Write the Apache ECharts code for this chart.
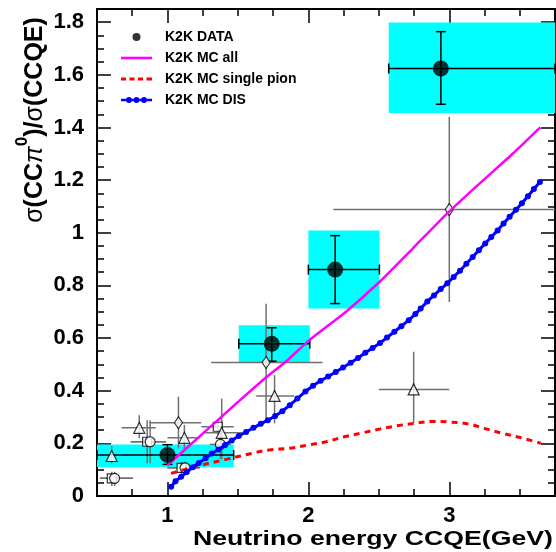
<!DOCTYPE html>
<html><head><meta charset="utf-8">
<script src="https://cdn.jsdelivr.net/npm/echarts@6/dist/echarts.min.js"></script>
<style>html,body{margin:0;padding:0;background:#fff}#c{width:556px;height:552px}</style>
</head><body><div id="c"></div>
<script>
// ---- tick values ----
const xMajorTicks = [1, 2, 3];
const yLabelStep = 0.2;

// ---- K2K data ----
const k2kE     = [1.0, 1.74, 2.19, 2.94];
const k2kR     = [0.156, 0.578, 0.86, 1.624];
const k2kELo   = [0.5, 1.506, 2.0, 2.57];
const k2kEHi   = [1.47, 2.01, 2.504, 3.75];
const k2kStatLo = [0.12, 0.512, 0.731, 1.488];
const k2kStatHi = [0.195, 0.639, 0.989, 1.764];
const k2kSysLo  = [0.109, 0.506, 0.712, 1.455];
const k2kSysHi  = [0.196, 0.649, 1.009, 1.799];

// ---- other experiments ----
const otherShape = ['triangle','rect','circle','triangle','rect','circle','diamond','triangle','rect','circle','rect','triangle','circle','diamond','triangle','triangle','diamond'];
const otherE   = [0.604, 0.605, 0.625, 0.80, 0.856, 0.877, 1.078, 1.12, 1.10, 1.125, 1.357, 1.385, 1.376, 1.70, 1.76, 2.747, 3.0];
const otherR   = [0.152, 0.067, 0.067, 0.259, 0.206, 0.206, 0.278, 0.221, 0.107, 0.107, 0.263, 0.24, 0.196, 0.507, 0.38, 0.405, 1.088];
const otherELo = [0.604, 0.52, 0.52, 0.675, 0.74, 0.74, 0.872, 1.0, 1.0, 1.0, 1.24, 1.26, 1.3, 1.31, 1.63, 2.5, 2.177];
const otherEHi = [0.604, 0.755, 0.755, 0.917, 0.99, 0.99, 1.239, 1.23, 1.23, 1.23, 1.47, 1.53, 1.45, 2.10, 1.90, 3.0, 3.75];
const otherRLo = [0.125, 0.038, 0.038, 0.219, 0.124, 0.124, 0.181, 0.168, 0.08, 0.08, 0.235, 0.14, 0.14, 0.295, 0.276, 0.277, 0.737];
const otherRHi = [0.19, 0.092, 0.092, 0.307, 0.288, 0.288, 0.377, 0.27, 0.13, 0.13, 0.29, 0.37, 0.25, 0.73, 0.459, 0.548, 1.44];

// ---- MC curves ----
const mcAllE = [1.0, 1.25, 1.5, 1.676, 1.85, 2.007, 2.267, 2.504, 2.74, 2.977, 3.2, 3.45, 3.645];
const mcAll  = [0.117, 0.237, 0.357, 0.44, 0.515, 0.592, 0.70, 0.813, 0.94, 1.069, 1.18, 1.30, 1.40];

const mcPionE = [1.026, 1.2, 1.416, 1.6, 1.723, 1.865, 2.002, 2.125, 2.255, 2.385, 2.504, 2.622, 2.752, 2.882, 3.0, 3.142, 3.248, 3.378, 3.496, 3.65];
const mcPion  = [0.086, 0.112, 0.139, 0.162, 0.175, 0.181, 0.194, 0.206, 0.225, 0.240, 0.254, 0.266, 0.276, 0.283, 0.281, 0.273, 0.257, 0.238, 0.223, 0.200];

const mcDisE = [1.026, 1.057, 1.097, 1.137, 1.180, 1.222, 1.270, 1.314, 1.362, 1.409, 1.456, 1.506, 1.558, 1.610, 1.662, 1.712, 1.764, 1.815, 1.868, 1.922, 1.979, 2.033, 2.087, 2.140, 2.194, 2.246, 2.300, 2.352, 2.404, 2.456, 2.508, 2.558, 2.610, 2.660, 2.712, 2.759, 2.797, 2.844, 2.891, 2.939, 2.986, 3.031, 3.076, 3.121, 3.166, 3.210, 3.255, 3.298, 3.343, 3.385, 3.428, 3.473, 3.515, 3.558, 3.600, 3.643];
const mcDis  = [0.035, 0.056, 0.073, 0.091, 0.109, 0.125, 0.143, 0.161, 0.177, 0.194, 0.211, 0.228, 0.243, 0.259, 0.274, 0.288, 0.304, 0.322, 0.345, 0.370, 0.397, 0.419, 0.438, 0.454, 0.471, 0.488, 0.506, 0.524, 0.544, 0.562, 0.581, 0.602, 0.624, 0.645, 0.668, 0.691, 0.712, 0.739, 0.762, 0.786, 0.808, 0.832, 0.856, 0.882, 0.908, 0.934, 0.959, 0.984, 1.009, 1.035, 1.061, 1.087, 1.112, 1.139, 1.166, 1.193];

const FONT = '"Liberation Sans", Arial, Helvetica, sans-serif';

const chart = echarts.init(document.getElementById('c'), null, {renderer: 'canvas'});

function errRender(cap, color) {
  return function (params, api) {
    const x = api.value(0), y = api.value(1), xl = api.value(2), xh = api.value(3), yl = api.value(4), yh = api.value(5);
    const a = api.coord([xl, y]), b = api.coord([xh, y]), c = api.coord([x, yl]), d = api.coord([x, yh]);
    const st = {stroke: color, lineWidth: 1.5};
    const ch = [];
    if (xh > xl) ch.push({type: 'line', shape: {x1: a[0], y1: a[1], x2: b[0], y2: b[1]}, style: st});
    if (yh > yl) ch.push({type: 'line', shape: {x1: c[0], y1: c[1], x2: d[0], y2: d[1]}, style: st});
    if (cap) {
      ch.push({type: 'line', shape: {x1: a[0], y1: a[1] - cap, x2: a[0], y2: a[1] + cap}, style: st});
      ch.push({type: 'line', shape: {x1: b[0], y1: b[1] - cap, x2: b[0], y2: b[1] + cap}, style: st});
      ch.push({type: 'line', shape: {x1: c[0] - cap, y1: c[1], x2: c[0] + cap, y2: c[1]}, style: st});
      ch.push({type: 'line', shape: {x1: d[0] - cap, y1: d[1], x2: d[0] + cap, y2: d[1]}, style: st});
    }
    return {type: 'group', children: ch};
  };
}

const axisLineStyle = {color: '#000', width: 2};
const tickStyle = {color: '#000', width: 1.5};
const xMin = 0.5, xMax = 3.75, yMin = 0, yMax = 1.85;

function yLabel(v) {
  const k = v / yLabelStep;
  if (Math.abs(k - Math.round(k)) < 1e-6 && v <= 1.8 + 1e-9) return String(+v.toFixed(1));
  return '';
}

// legend icons (line samples like the original legend)
const iconSolid  = 'path://M0,2.2h31v2.6h-31z';
const iconDashed = 'path://M0,2h5v3h-5zM8.5,2h5v3h-5zM17,2h5v3h-5zM25.5,2h5.5v3h-5.5z';
const iconDots   = 'path://M0,2.3h5v2.4h-5z'
  + 'M5,3.5a3,3 0 1,1 6,0a3,3 0 1,1 -6,0z'
  + 'M11,2.3h1.5v2.4h-1.5z'
  + 'M12.5,3.5a3,3 0 1,1 6,0a3,3 0 1,1 -6,0z'
  + 'M18.5,2.3h1.5v2.4h-1.5z'
  + 'M20,3.5a3,3 0 1,1 6,0a3,3 0 1,1 -6,0z'
  + 'M26,2.3h5v2.4h-5z';

const option = {
  animation: false,
  backgroundColor: '#fff',
  grid: {left: 97, right: 1, top: 9, bottom: 56, containLabel: false},
  xAxis: [
    {type: 'value', min: xMin, max: xMax, interval: 0.25, position: 'bottom',
     axisLine: {show: true, onZero: false, lineStyle: axisLineStyle},
     axisTick: {show: true, inside: true, length: 7, lineStyle: tickStyle},
     axisLabel: {show: false}, splitLine: {show: false}},
    {type: 'value', min: xMin, max: xMax, position: 'bottom',
     axisLine: {show: false, onZero: false},
     axisTick: {show: true, inside: true, length: 14, lineStyle: tickStyle, customValues: xMajorTicks},
     axisLabel: {show: true, customValues: xMajorTicks, fontSize: 22, fontWeight: 'bold', color: '#000', fontFamily: FONT, margin: 9},
     splitLine: {show: false}},
    {type: 'value', min: xMin, max: xMax, interval: 0.25, position: 'top',
     axisLine: {show: true, onZero: false, lineStyle: axisLineStyle},
     axisTick: {show: true, inside: true, length: 7, lineStyle: tickStyle},
     axisLabel: {show: false}, splitLine: {show: false}},
    {type: 'value', min: xMin, max: xMax, position: 'top',
     axisLine: {show: false, onZero: false},
     axisTick: {show: true, inside: true, length: 14, lineStyle: tickStyle, customValues: xMajorTicks},
     axisLabel: {show: false, customValues: xMajorTicks}, splitLine: {show: false}}
  ],
  yAxis: [
    {type: 'value', min: yMin, max: yMax, interval: 0.05, position: 'left',
     axisLine: {show: true, onZero: false, lineStyle: axisLineStyle},
     axisTick: {show: true, inside: true, length: 7, lineStyle: tickStyle},
     axisLabel: {show: true, formatter: yLabel, fontSize: 22, fontWeight: 'bold', color: '#000', fontFamily: FONT, margin: 13},
     splitLine: {show: false}},
    {type: 'value', min: yMin, max: yMax, interval: yLabelStep, position: 'left',
     axisLine: {show: false, onZero: false},
     axisTick: {show: true, inside: true, length: 14, lineStyle: tickStyle},
     axisLabel: {show: false}, splitLine: {show: false}},
    {type: 'value', min: yMin, max: yMax, interval: 0.05, position: 'right',
     axisLine: {show: true, onZero: false, lineStyle: axisLineStyle},
     axisTick: {show: true, inside: true, length: 7, lineStyle: tickStyle},
     axisLabel: {show: false}, splitLine: {show: false}},
    {type: 'value', min: yMin, max: yMax, interval: yLabelStep, position: 'right',
     axisLine: {show: false, onZero: false},
     axisTick: {show: true, inside: true, length: 14, lineStyle: tickStyle},
     axisLabel: {show: false}, splitLine: {show: false}}
  ],
  legend: {
    orient: 'vertical', left: 116, top: 25, itemWidth: 31, itemHeight: 8, itemGap: 7,
    textStyle: {fontSize: 14, fontWeight: 'bold', color: '#000', fontFamily: FONT, padding: [0, 0, 0, 8]},
    data: [
      {name: 'K2K DATA', icon: 'circle'},
      {name: 'K2K MC all', icon: iconSolid},
      {name: 'K2K MC single pion', icon: iconDashed},
      {name: 'K2K MC DIS', icon: iconDots}
    ]
  },
  graphic: [
    {type: 'text', x: 553, y: 539, scaleX: 1.27, z: 100,
     style: {text: 'Neutrino energy CCQE(GeV)', font: 'bold 21px ' + FONT, fill: '#000',
             align: 'right', verticalAlign: 'middle', textAlign: 'right', textVerticalAlign: 'middle'}},
    {type: 'text', x: 31, y: 120, rotation: Math.PI / 2, z: 100,
     style: {text: '{s|σ}{b|(CC}{p|π}{u|0}{b|)/}{s|σ}{b|(CCQE)}', fill: '#000',
             align: 'center', verticalAlign: 'middle', textAlign: 'center', textVerticalAlign: 'middle',
             rich: {
               b: {fontSize: 25, fontWeight: 'bold', fontFamily: FONT, lineHeight: 34, verticalAlign: 'bottom'},
               s: {fontSize: 25, fontWeight: 'normal', fontFamily: FONT, lineHeight: 34, verticalAlign: 'bottom'},
               p: {fontSize: 25, fontWeight: 'normal', fontStyle: 'italic', fontFamily: FONT, lineHeight: 34, verticalAlign: 'bottom'},
               u: {fontSize: 17, fontWeight: 'bold', fontFamily: FONT, lineHeight: 17, verticalAlign: 'top'}
             }}}
  ],
  series: [
    {type: 'custom', name: 'sys', z: 1, silent: true,
     renderItem: function (params, api) {
       const p1 = api.coord([api.value(0), api.value(3)]);
       const p2 = api.coord([api.value(1), api.value(2)]);
       return {type: 'rect', shape: {x: p1[0], y: p1[1], width: p2[0] - p1[0], height: p2[1] - p1[1]}, style: {fill: '#00ffff'}};
     },
     data: k2kE.map((e, i) => [k2kELo[i], k2kEHi[i], k2kSysLo[i], k2kSysHi[i]])},
    {type: 'custom', name: 'otherErr', z: 2, silent: true,
     renderItem: errRender(0, '#707070'),
     data: otherE.map((e, i) => [e, otherR[i], otherELo[i], otherEHi[i], otherRLo[i], otherRHi[i]])},
    {type: 'custom', name: 'k2kErr', z: 3, silent: true,
     renderItem: errRender(5, '#000'),
     data: k2kE.map((e, i) => [e, k2kR[i], k2kELo[i], k2kEHi[i], k2kStatLo[i], k2kStatHi[i]])},
    {type: 'scatter', name: 'other', z: 4, silent: true,
     itemStyle: {color: '#fff', borderColor: '#000', borderWidth: 1.2},
     data: otherE.map((e, i) => ({
       value: [e, otherR[i]], symbol: otherShape[i],
       symbolSize: otherShape[i] === 'diamond' ? [8, 12] : (otherShape[i] === 'rect' ? 9 : (otherShape[i] === 'triangle' ? 11 : 10))
     }))},
    {type: 'line', name: 'K2K MC all', z: 5, symbol: 'none', smooth: 0.2,
     lineStyle: {color: '#ff00ff', width: 2.5}, itemStyle: {color: '#ff00ff'},
     data: mcAllE.map((e, i) => [e, mcAll[i]])},
    {type: 'line', name: 'K2K MC single pion', z: 5, symbol: 'none', smooth: 0.4,
     lineStyle: {color: '#ff0000', width: 3, type: [6, 5]}, itemStyle: {color: '#ff0000'},
     data: mcPionE.map((e, i) => [e, mcPion[i]])},
    {type: 'line', name: 'K2K MC DIS', z: 5, symbol: 'circle', symbolSize: 6, showAllSymbol: true,
     lineStyle: {color: '#0000ff', width: 3}, itemStyle: {color: '#0000ff'},
     data: mcDisE.map((e, i) => [e, mcDis[i]])},
    {type: 'scatter', name: 'K2K DATA', z: 6, symbol: 'circle', symbolSize: 16,
     itemStyle: {color: '#000'},
     data: k2kE.map((e, i) => [e, k2kR[i]])}
  ]
};
chart.setOption(option);
</script>
</body></html>
